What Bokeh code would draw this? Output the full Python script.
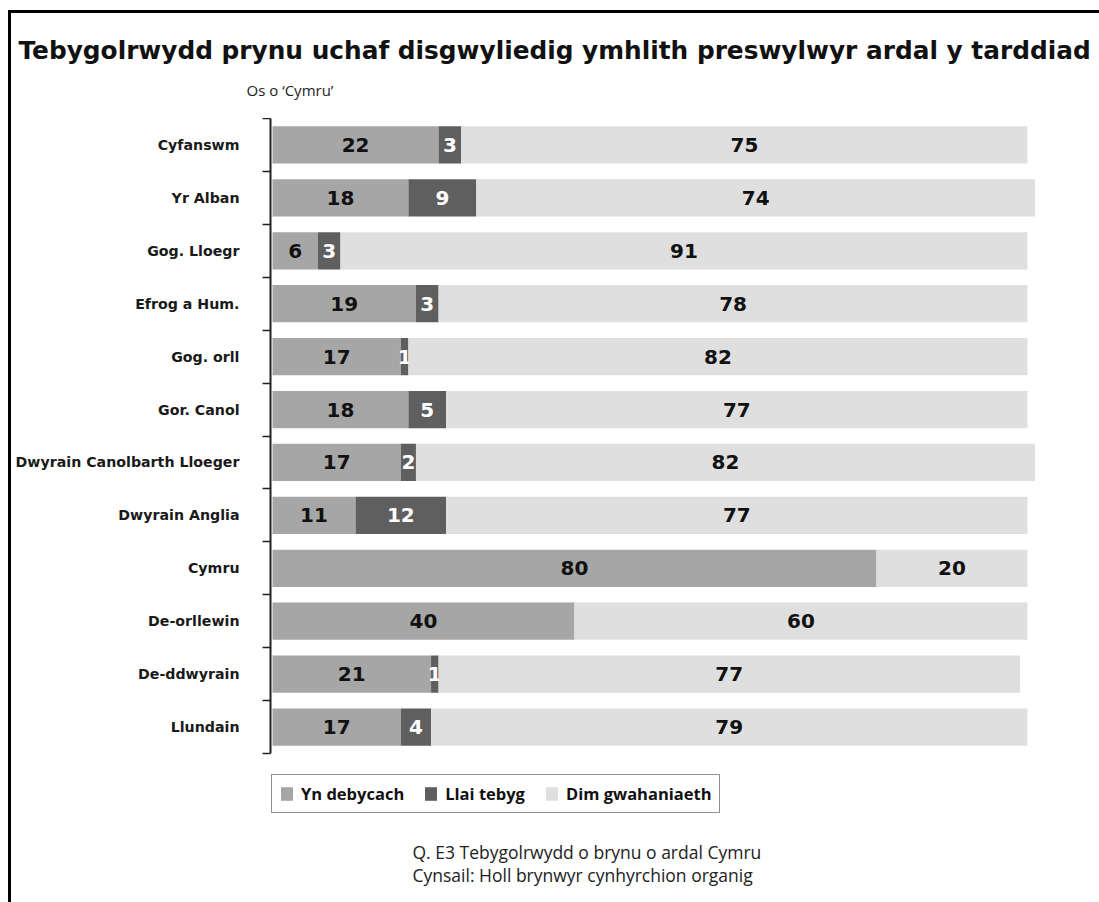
import pandas as pd
from bokeh.plotting import figure
from bokeh.layouts import column, row
from bokeh.models import (ColumnDataSource, Range1d, LinearAxis, FixedTicker, Label,
                          Legend, LegendItem, Spacer)
from bokeh.core.properties import value
from bokeh.embed import file_html
from bokeh.resources import INLINE

# ---------------- data ----------------
categories = ["Cyfanswm", "Yr Alban", "Gog. Lloegr", "Efrog a Hum.", "Gog. orll",
              "Gor. Canol", "Dwyrain Canolbarth Lloeger", "Dwyrain Anglia", "Cymru",
              "De-orllewin", "De-ddwyrain", "Llundain"]
more_likely = [22, 18, 6, 19, 17, 18, 17, 11, 80, 40, 21, 17]
less_likely = [3, 9, 3, 3, 1, 5, 2, 12, 0, 0, 1, 4]
no_difference = [75, 74, 91, 78, 82, 77, 82, 77, 20, 60, 77, 79]
series_names = ["Yn debycach", "Llai tebyg", "Dim gwahaniaeth"]

title_text = "Tebygolrwydd prynu uchaf disgwyliedig ymhlith preswylwyr ardal y tarddiad"
subtitle_text = "Os o \u2018Cymru\u2019"
note_lines = ["Q. E3 Tebygolrwydd o brynu o ardal Cymru",
              "Cynsail: Holl brynwyr cynhyrchion organig"]

# ---------------- styles / layout ----------------
colors = ["#a6a6a6", "#5f5f5f", "#dfdfdf"]
label_colors = ["#111111", "#ffffff", "#111111"]
W, H = 1099, 902
BOX_L, BOX_T, LINE = 8, 10, 3          # outer frame lines (left / top)
IN_L, IN_T = BOX_L + LINE, BOX_T + LINE  # inner origin of the content
FRAME_L, FRAME_T, FRAME_B = 270, 118, 753
PX = 7.55      # pixels per percentage point
GAP = 2        # gap between axis line and bar start, px
n = len(categories)
BAND = (FRAME_B - FRAME_T) / n
idx = list(range(n))
CW = W - IN_L   # content width

# ---------------- header (title / subtitle) ----------------
head = figure(width=CW, height=FRAME_T - IN_T, output_backend="svg", toolbar_location=None,
              x_range=Range1d(IN_L, W), y_range=Range1d(FRAME_T, IN_T),
              min_border=0, x_axis_location=None, y_axis_location=None)
head.outline_line_color = None
head.grid.visible = False
head.title.visible = False
head.add_layout(Label(x=18, y=50, text=title_text, text_align="left", text_baseline="middle",
                      text_font="DejaVu Sans", text_font_style="bold", text_font_size="24.8px",
                      text_color="#111111"))
head.add_layout(Label(x=246, y=89, text=subtitle_text, text_align="left",
                      text_baseline="middle", text_font="Open Sans", text_font_size="15px",
                      text_color="#222222"))

# ---------------- main chart ----------------
p = figure(width=CW, height=H - FRAME_T, output_backend="svg", toolbar_location=None,
           x_range=Range1d(-GAP / PX, (W - FRAME_L - GAP) / PX),
           y_range=Range1d(n - 0.5 + (H - FRAME_B) / BAND, -0.5),
           min_border_left=FRAME_L - IN_L, min_border_right=0,
           min_border_top=0, min_border_bottom=0,
           x_axis_location=None, y_axis_location=None)
p.outline_line_color = None
p.grid.visible = False
p.title.visible = False

yaxis = LinearAxis(
    ticker=FixedTicker(ticks=idx, minor_ticks=[i - 0.5 for i in range(n + 1)]),
    bounds=(-0.5, n - 0.5),
    major_label_overrides={i: c for i, c in enumerate(categories)},
    major_tick_line_color=None, major_tick_in=0, major_tick_out=0,
    minor_tick_in=0, minor_tick_out=8, minor_tick_line_color="#222222",
    minor_tick_line_width=1.5,
    axis_line_color="#222222", axis_line_width=2,
    major_label_standoff=23,
    major_label_text_font="DejaVu Sans", major_label_text_font_style="bold",
    major_label_text_font_size="14.2px", major_label_text_color="#1a1a1a",
)
p.add_layout(yaxis, "left")

df = pd.DataFrame({"cat": categories, "y": idx, series_names[0]: more_likely,
                   series_names[1]: less_likely, series_names[2]: no_difference})

left = pd.Series([0] * n, dtype=float)
items = []
for name, col, tcol in zip(series_names, colors, label_colors):
    vals = df[name].astype(float)
    right = left + vals
    src = ColumnDataSource(dict(y=df["y"], left=left, right=right))
    r = p.hbar(y="y", left="left", right="right", height=0.705, fill_color=col,
               line_color=None, source=src)
    items.append(LegendItem(label=name, renderers=[r]))
    mask = vals > 0
    tsrc = ColumnDataSource(dict(y=df["y"][mask], x=((left + right) / 2)[mask],
                                 t=[str(int(v)) for v in vals[mask]]))
    p.text(x="x", y="y", text="t", source=tsrc, text_align="center",
           text_baseline="middle", text_font=value("DejaVu Sans"),
           text_font_style="bold", text_font_size="20px", text_color=tcol)
    left = right

legend = Legend(items=items, orientation="horizontal", location=(1, H - 813),
                glyph_width=15, glyph_height=17, label_standoff=7, spacing=19,
                padding=7, margin=0, label_height=17,
                label_text_font="Open Sans", label_text_font_style="bold",
                label_text_font_size="16.5px", label_text_color="#111111",
                border_line_color="#222222", border_line_width=1.5,
                background_fill_color="white", background_fill_alpha=1)
p.add_layout(legend)

for k, (line, cy) in enumerate(zip(note_lines, [851, 874])):
    p.add_layout(Label(x=412 - FRAME_L, y=H - cy, x_units="screen", y_units="screen",
                       text=line, text_align="left", text_baseline="middle",
                       text_font="Open Sans", text_font_size="17.5px", text_color="#222222"))

# ---------------- outer frame lines ----------------
vline = Spacer(width=LINE, height=H - BOX_T, styles={"background-color": "#000000"})
hline = Spacer(width=CW, height=LINE, styles={"background-color": "#000000"})
layout = row(Spacer(width=BOX_L, height=H),
             column(Spacer(width=W - BOX_L, height=BOX_T),
                    row(vline, column(hline, row(head), row(p), spacing=0), spacing=0),
                    spacing=0),
             spacing=0)

open("out.html", "w").write(file_html(layout, INLINE))
